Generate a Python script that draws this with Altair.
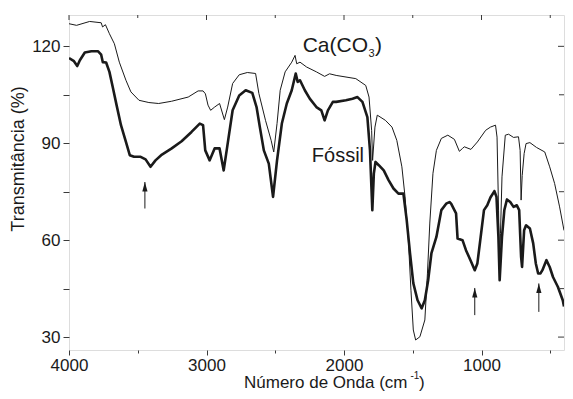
import altair as alt
import pandas as pd

# ---- data ----
caco3_wn = [4000, 3945, 3850, 3766, 3756, 3735, 3706, 3670, 3634, 3586, 3550, 3491,
            3419, 3348, 3254, 3133, 3061, 3025, 3008, 2989, 2970, 2941, 2905, 2870,
            2846, 2810, 2762, 2703, 2643, 2619, 2571, 2530, 2511, 2487, 2464, 2428,
            2380, 2356, 2344, 2320, 2272, 2201, 2141, 2105, 2057, 1914, 1842, 1818,
            1799, 1792, 1775, 1758, 1699, 1651, 1616, 1579, 1556, 1532, 1513, 1496,
            1479, 1448, 1412, 1393, 1376, 1353, 1328, 1292, 1245, 1197, 1161, 1138,
            1125, 1077, 1030, 970, 935, 898, 887, 876, 869, 862, 851, 827, 803, 767,
            731, 719, 712, 704, 690, 676, 648, 600, 540, 504, 468, 432, 400]
caco3_t = [127.0, 126.5, 127.7, 127.3, 126.0, 126.7, 123.9, 120.8, 115.1, 109.5, 105.9, 103.3,
           102.6, 102.3, 103.0, 104.3, 106.2, 106.2, 105.3, 101.8, 100.2, 101.2, 102.3, 97.3,
           101.2, 108.5, 111.2, 111.9, 111.6, 105.4, 97.1, 90.9, 87.3, 96.1, 106.4, 112.1,
           115.1, 117.2, 114.6, 115.1, 113.6, 112.1, 110.7, 111.5, 111.0, 110.0, 107.9, 104.3,
           94.0, 84.7, 95.0, 98.7, 97.1, 95.0, 90.9, 82.7, 73.4, 60.0, 44.5, 32.2,
           29.1, 30.1, 35.3, 49.8, 65.3, 80.7, 87.8, 91.5, 92.5, 91.2, 87.5, 88.4,
           88.9, 88.1, 90.4, 94.0, 95.0, 95.6, 91.9, 69.3, 52.0, 62.0, 79.6, 92.5, 92.8, 91.8,
           92.0, 87.8, 72.4, 80.0, 86.8, 89.9, 90.2, 88.7, 87.3, 82.7, 77.5, 70.3, 63.0]

fossil_wn = [4000, 3964, 3940, 3921, 3885, 3837, 3790, 3766, 3754, 3730, 3706, 3682,
             3654, 3622, 3586, 3558, 3527, 3479, 3443, 3407, 3371, 3324, 3253, 3181,
             3109, 3049, 3025, 3009, 2977, 2941, 2905, 2875, 2846, 2810, 2762, 2715,
             2667, 2636, 2612, 2583, 2547, 2516, 2487, 2452, 2416, 2380, 2351, 2337,
             2320, 2285, 2249, 2201, 2165, 2141, 2117, 2081, 2057, 1986, 1938, 1902,
             1866, 1830, 1811, 1794, 1783, 1771, 1747, 1711, 1676, 1640, 1604, 1568,
             1544, 1520, 1496, 1465, 1435, 1412, 1388, 1364, 1328, 1292, 1257, 1233,
             1221, 1185, 1174, 1138, 1113, 1077, 1049, 1030, 1006, 982, 958, 935, 906,
             891, 877, 868, 851, 834, 815, 791, 767, 743, 726, 712, 705, 690, 676, 648,
             624, 605, 588, 571, 557, 528, 504, 480, 444, 409, 400]
fossil_t = [116.4, 115.4, 113.9, 115.7, 118.1, 118.5, 118.5, 117.4, 115.1, 115.0, 112.1, 107.4,
            101.8, 95.6, 90.4, 86.3, 85.8, 85.8, 85.0, 82.7, 84.7, 86.5, 88.4, 90.6,
            93.5, 96.1, 95.6, 87.8, 84.7, 88.4, 88.4, 81.6, 89.9, 100.2, 104.8, 106.4,
            105.6, 101.2, 95.0, 87.8, 83.7, 73.4, 84.7, 96.1, 102.3, 106.4, 111.6, 109.0,
            109.5, 106.4, 103.8, 101.2, 100.2, 97.1, 100.2, 102.8, 102.8, 103.3, 103.8, 104.3,
            102.8, 98.1, 87.8, 69.3, 80.6, 84.2, 83.2, 81.6, 78.6, 76.0, 74.4, 74.4,
            66.2, 56.0, 46.7, 41.4, 38.9, 41.4, 47.6, 56.0, 61.0, 69.3, 71.3, 71.8,
            71.3, 68.3, 60.5, 60.0, 56.9, 53.5, 50.7, 52.8, 61.0, 69.3, 70.8, 73.2, 75.2,
            73.4, 61.0, 47.6, 61.0, 69.3, 72.6, 71.8, 70.3, 70.8, 69.3, 54.8, 51.7, 63.1, 64.6, 63.6,
            59.0, 52.8, 49.7, 49.7, 50.7, 53.8, 51.7, 48.6, 45.5, 41.4, 39.5]

series_names = ["Ca(CO3)", "Fóssil"]

# arrows marking bands (wavenumber, tail value, tip value)
arrow_wn = [3448, 1049, 583]
arrow_tail = [69.8, 36.8, 37.8]
arrow_tip = [78.0, 45.2, 46.6]

x_major = [4000, 3000, 2000, 1000]
x_minor = [3500, 2500, 1500, 500]
y_major = [30, 60, 90, 120]
y_minor = [45, 75, 105]

x_domain = [4000, 400]
y_domain = [26, 129.7]

FONT = "Liberation Sans"
INK = "#1a1a1a"
AXC = "#3a3a3a"
W, H = 495, 335

caco3 = pd.DataFrame({"wn": caco3_wn, "t": caco3_t, "s": series_names[0]})
fossil = pd.DataFrame({"wn": fossil_wn, "t": fossil_t, "s": series_names[1]})
arrows = pd.DataFrame({"wn": arrow_wn, "tail": arrow_tail, "tip": arrow_tip})

xscale = alt.Scale(domain=x_domain, nice=False, zero=False)
yscale = alt.Scale(domain=y_domain, nice=False, zero=False)

xaxis = alt.Axis(values=x_major + x_minor, format="d",
                 labelExpr="datum.value % 1000 === 0 ? datum.label : ''",
                 tickSize={"condition": {"test": "datum.value % 1000 === 0", "value": 5}, "value": 3},
                 labelFlush=False, labelOverlap=False, grid=False, domain=False,
                 tickColor=AXC, labelColor=INK, labelFont=FONT, labelFontSize=17,
                 labelPadding=2.5, title=None)
yaxis = alt.Axis(values=y_major + y_minor, format="d",
                 labelExpr="datum.value % 30 === 0 ? datum.label : ''",
                 tickSize=6, labelFlush=False, labelOverlap=False, grid=False, domain=False,
                 tickColor=AXC, labelColor=INK, labelFont=FONT, labelFontSize=17,
                 labelPadding=3, title=None)

base_x = alt.X("wn:Q", scale=xscale, axis=xaxis)
base_y = alt.Y("t:Q", scale=yscale, axis=yaxis)

thin = alt.Chart(caco3).mark_line(color=INK, strokeWidth=1, clip=True).encode(
    x=base_x, y=base_y, order="wn:Q")
thick = alt.Chart(fossil).mark_line(color=INK, strokeWidth=2.6, clip=True,
                                    strokeJoin="round").encode(
    x=alt.X("wn:Q", scale=xscale), y=alt.Y("t:Q", scale=yscale), order="wn:Q")

arrow_shaft = alt.Chart(arrows).mark_rule(color=INK, strokeWidth=1).encode(
    x=alt.X("wn:Q", scale=xscale), y=alt.Y("tail:Q", scale=yscale), y2="tip:Q")
arrow_head = alt.Chart(arrows).mark_point(
    shape="M0,0L-0.55,2L0.55,2Z", size=90, filled=True, color=INK, opacity=1).encode(
    x=alt.X("wn:Q", scale=xscale), y=alt.Y("tip:Q", scale=yscale))

# frame ticks on top / right (inward)
tx_major = pd.DataFrame({"wn": x_major})
tx_minor = pd.DataFrame({"wn": x_minor})
ty_major = pd.DataFrame({"t": y_major})
ty_minor = pd.DataFrame({"t": y_minor})
top_major = alt.Chart(tx_major).mark_rule(color=AXC).encode(
    x=alt.X("wn:Q", scale=xscale), y=alt.value(0), y2=alt.value(5))
top_minor = alt.Chart(tx_minor).mark_rule(color=AXC).encode(
    x=alt.X("wn:Q", scale=xscale), y=alt.value(0), y2=alt.value(3))
right_major = alt.Chart(ty_major).mark_rule(color=AXC).encode(
    y=alt.Y("t:Q", scale=yscale), x=alt.value(W), x2=alt.value(W - 6))
right_minor = alt.Chart(ty_minor).mark_rule(color=AXC).encode(
    y=alt.Y("t:Q", scale=yscale), x=alt.value(W), x2=alt.value(W - 5))


def txt(s, x, y, size, **kw):
    return alt.Chart(pd.DataFrame({"s": [s]})).mark_text(
        font=FONT, fontSize=size, color=INK, align=kw.pop("align", "left"),
        baseline="alphabetic", **kw).encode(
        x=alt.value(x), y=alt.value(y), text="s:N")


labels = [
    txt("Ca(CO", 233.7, 37, 21),
    txt("3", 299.5, 41.5, 11),
    txt(")", 306, 37, 21),
    txt("Fóssil", 242.8, 147, 20),
    txt("Número de Onda (cm", 175, 373, 17),
    txt("-1", 341.5, 364, 10),
    txt(")", 350, 373, 17),
    txt("Transmitância (%)", -45, 144, 18, align="center", angle=270),
]

chart = alt.layer(
    thin, thick, arrow_shaft, arrow_head,
    top_major, top_minor, right_major, right_minor, *labels
).properties(
    width=W, height=H,
    autosize=alt.AutoSizeParams(type="none"),
    padding={"left": 61, "top": 7, "right": 1, "bottom": 41},
).configure_view(stroke=AXC, strokeWidth=1).configure(background="white")

chart.save("out.html", embed_options={"renderer": "svg", "actions": False})
